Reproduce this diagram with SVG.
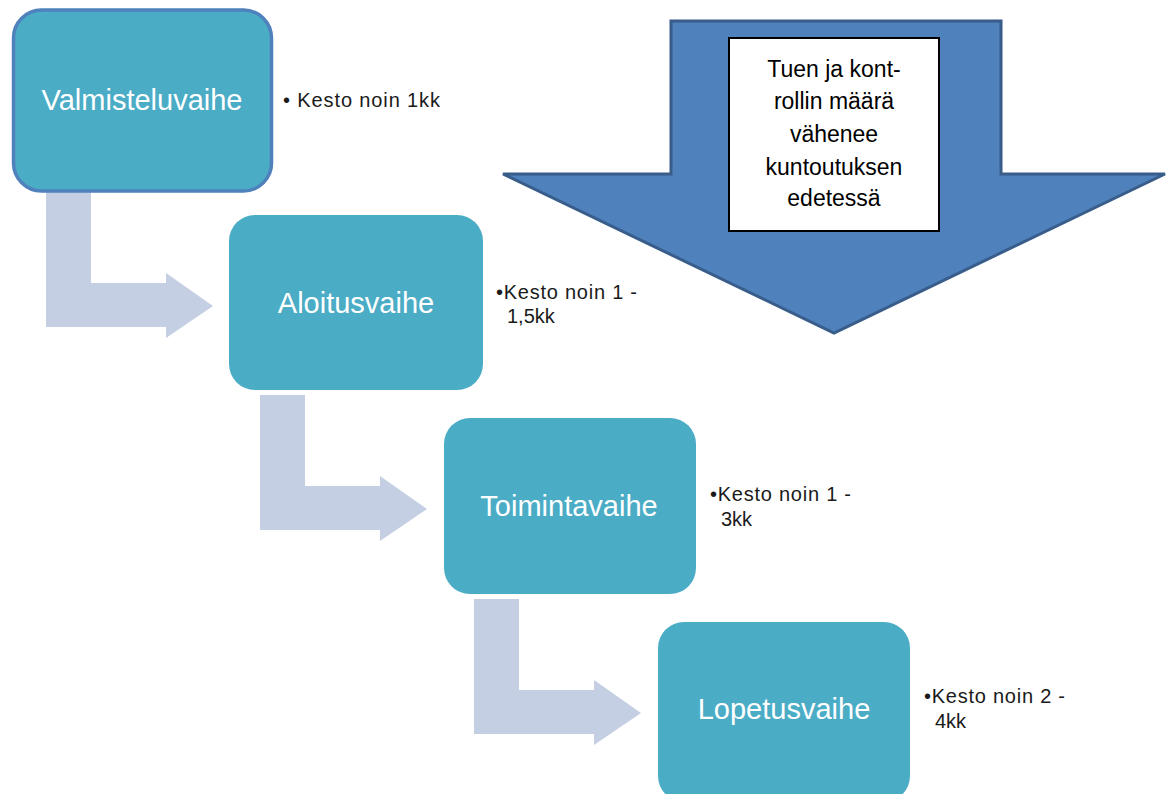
<svg xmlns="http://www.w3.org/2000/svg" width="1171" height="794" viewBox="0 0 1171 794">
<style>
.bent{fill:#C5CFE3;stroke:none}
.node{fill:#4BACC6}
.lbl{font-family:"Liberation Sans",Arial,sans-serif;font-size:29px;fill:#FFFFFF;text-anchor:middle}
.note{font-family:"Liberation Sans",Arial,sans-serif;font-size:20px;fill:#1A1A1A}
.big{fill:#4F81BD;stroke:#385D8A;stroke-width:3}
.tb{fill:#FFFFFF;stroke:#000000;stroke-width:2}
.tbt{font-family:"Liberation Sans",Arial,sans-serif;font-size:23px;fill:#000000;text-anchor:middle}
</style>
<rect width="1171" height="794" fill="#FFFFFF"/>
<g id="connectors">
<path class="bent" d="M46,190 H91 V283 H166 V273 L213,306 L166,338 V327 H46 Z"/>
<path class="bent" d="M260,395 H305 V486 H380 V476 L427,509 L380,541 V530 H260 Z"/>
<path class="bent" d="M474,599 H519 V690 H594 V680 L641,713 L594,745 V734 H474 Z"/>
</g>
<g id="big-arrow">
<polygon class="big" points="671,21 1001,21 1001,174 1165,174 834,333 503,174 671,174"/>
<rect class="tb" x="729" y="38" width="210" height="193"/>
<text class="tbt" x="834" y="77">Tuen ja kont-</text>
<text class="tbt" x="834" y="109">rollin määrä</text>
<text class="tbt" x="834" y="142">vähenee</text>
<text class="tbt" x="834" y="175">kuntoutuksen</text>
<text class="tbt" x="834" y="206">edetessä</text>
</g>
<g id="node-valmisteluvaihe">
<rect class="node" x="13.5" y="10" width="258" height="181" rx="28" stroke="#4F81BD" stroke-width="3.5"/>
<text class="lbl" x="142" y="110">Valmisteluvaihe</text>
<text class="note" x="283" y="107" textLength="157">• Kesto noin 1kk</text>
</g>
<g id="node-aloitusvaihe">
<rect class="node" x="229" y="215" width="254" height="175" rx="26"/>
<text class="lbl" x="356" y="313">Aloitusvaihe</text>
<text class="note" x="496" y="299" textLength="141">•Kesto noin 1 -</text>
<text class="note" x="507" y="323">1,5kk</text>
</g>
<g id="node-toimintavaihe">
<rect class="node" x="444" y="418" width="252" height="176" rx="26"/>
<text class="lbl" x="569" y="516">Toimintavaihe</text>
<text class="note" x="710" y="501" textLength="141">•Kesto noin 1 -</text>
<text class="note" x="721" y="526">3kk</text>
</g>
<g id="node-lopetusvaihe">
<rect class="node" x="658" y="622" width="252" height="180" rx="26"/>
<text class="lbl" x="784" y="719">Lopetusvaihe</text>
<text class="note" x="924" y="703" textLength="141">•Kesto noin 2 -</text>
<text class="note" x="935" y="728">4kk</text>
</g>
</svg>
